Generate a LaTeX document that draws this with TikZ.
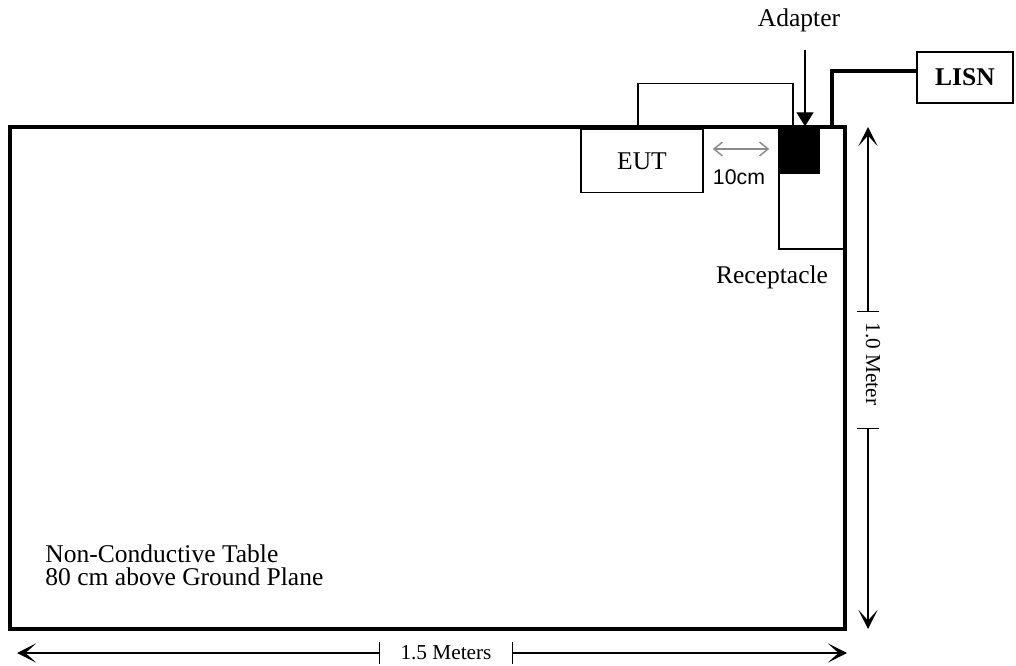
\documentclass[tikz,border=0pt]{standalone}
\usepackage{fontspec}
\setmainfont{Liberation Serif}
\newfontfamily\sansfont{Liberation Sans}
\usetikzlibrary{arrows.meta}
\newcommand\pxl{0.47pt}

\begin{document}
\begin{tikzpicture}[
  x=\pxl, y=-\pxl,
  font=\fontsize{12}{10.8}\selectfont,
  part/.style={draw, line width=0.7pt, inner sep=0pt},
  tablebox/.style={draw, line width=1.45pt, inner sep=0pt},
  cable/.style={line width=0.7pt},
  power/.style={line width=1.45pt},
  pointer/.style={line width=0.5pt, -{Triangle[length=6.5pt, width=8pt]}},
  gaparr/.style={black!45, line width=0.7pt,
    {Straight Barb[length=4pt, width=6.5pt]}-{Straight Barb[length=4pt, width=6.5pt]}},
  dimarr/.style={line width=0.8pt, -{Stealth[length=9pt, width=9pt, inset=5pt]}},
  dimtext/.style={font=\fontsize{10}{12}\selectfont, inner sep=0pt,
    minimum height=21*\pxl},
  dimtick/.style={line width=0.8pt}
]
\useasboundingbox (0,0) rectangle (1016,666);

% receptacle and adapter at the table edge
\node[part, minimum width=66*\pxl, minimum height=122*\pxl] (rec) at (812,188) {};
\node[part, fill=black, minimum width=38*\pxl, minimum height=46*\pxl] (adapter) at (800,150) {};
\node[tablebox, minimum width=835*\pxl, minimum height=502*\pxl] (table) at (427.5,378) {};
\node[part, minimum width=122*\pxl, minimum height=63*\pxl] (eut) at (642,161) {EUT};
\node[part, minimum width=96*\pxl, minimum height=51*\pxl] (lisn) at (965,77.5) {\bfseries LISN};

% labels
\node[anchor=base] (adlabel) at (799,27) {Adapter};
\node[anchor=base] (reclabel) at (772,284) {Receptacle};
\node[font=\sansfont\fontsize{10}{12}\selectfont] (gaplabel) at (739,177) {10cm};
\node[anchor=north west, inner sep=0pt, align=left] (tablelabel) at (45,544)
  {Non-Conductive Table\\80 cm above Ground Plane};

% cables
\draw[cable] ([xshift=-4*\pxl]eut.north) -- ++(0,-45.5) -| ([xshift=-7*\pxl]adapter.north);
\coordinate (feed) at (832,127);
\draw[power] (feed) |- ([yshift=6.5*\pxl]lisn.west);

\coordinate (adtop) at (805,50);
\draw[pointer] (adtop) -- (adtop |- adapter.north);
\draw[gaparr, shorten <=9*\pxl, shorten >=9*\pxl]
  ([yshift=12*\pxl]eut.east) -- ([yshift=12*\pxl]eut.east -| rec.west);

% dimensions
\node[dimtext, minimum width=132*\pxl] (hdim) at (446,653) {1.5 Meters};
\coordinate (hl) at (17,653);
\coordinate (hr) at (847,653);
\draw[dimarr] (hdim.west) -- (hl);
\draw[dimarr] (hdim.east) -- (hr);
\draw[dimtick] (hdim.north west) -- (hdim.south west);
\draw[dimtick] (hdim.north east) -- (hdim.south east);

\node[dimtext, rotate=-90, minimum width=116*\pxl, minimum height=22*\pxl] (vdim) at (868,370) {};
\node[dimtext, rotate=-90] (vlabel) at (873,364) {1.0 Meter};
\coordinate (vt) at (868,127);
\coordinate (vb) at (868,629);
\draw[dimarr] (vdim.west) -- (vt);
\draw[dimarr] (vdim.east) -- (vb);
\draw[dimtick] (vdim.north west) -- (vdim.south west);
\draw[dimtick] (vdim.north east) -- (vdim.south east);
\end{tikzpicture}
\end{document}
